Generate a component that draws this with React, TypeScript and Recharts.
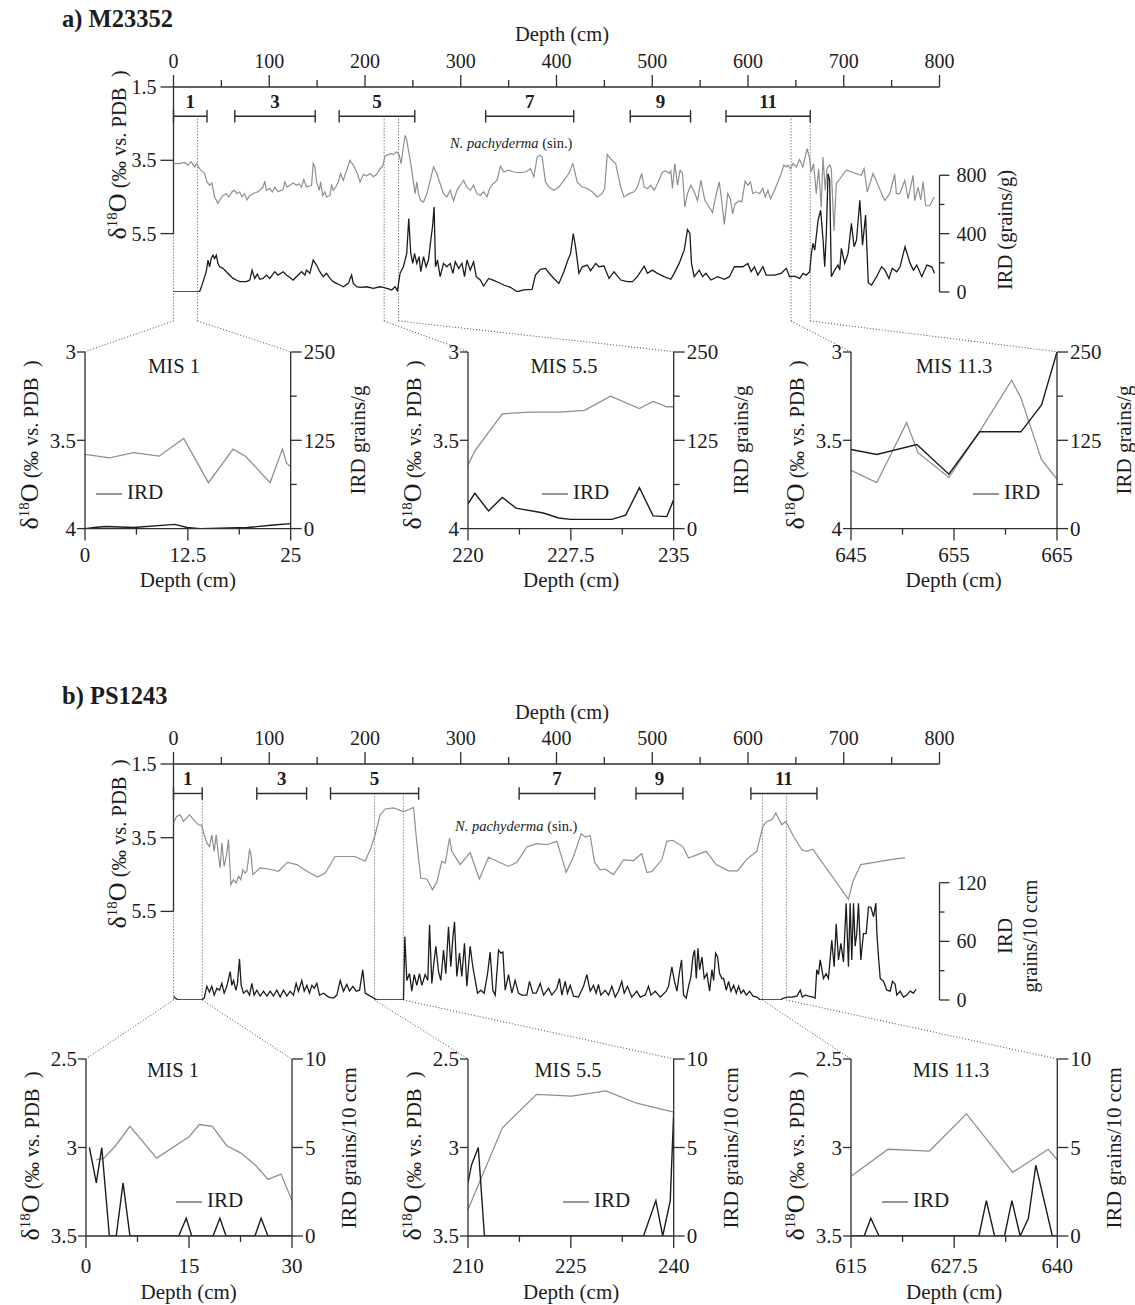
import React from "react";
import { ComposedChart, Line, XAxis, YAxis, ReferenceLine } from "recharts";

const SERIF = '"Liberation Serif", "Times New Roman", Times, serif';
const INK = "#1c1c1c";
const AXIS = "#2e2e2e";
const GREY = "#8f8f8f";
const DOTS = "#474747";

type Pt = [number, number];

// ---------------- a) M23352 : [depth cm, value] ----------------
const A_D18O: Pt[] = [
  [0, 3.59], [6.3, 3.59], [11.5, 3.56], [15, 3.63], [18.5, 3.54], [22, 3.68], [24.4, 3.59], [27.2, 3.73], [29.7, 3.79],
  [32.5, 3.86], [34.9, 4.09], [37.7, 4.18], [40.1, 4.12], [42.9, 4.5], [46.4, 4.67], [49.2, 4.55], [51.7, 4.46], [55.1, 4.41],
  [57.9, 4.5], [61.1, 4.36], [63.9, 4.32], [66.3, 4.41], [69.1, 4.36], [71.6, 4.5], [74.3, 4.41], [76.8, 4.58], [79.6, 4.46],
  [83.8, 4.4], [88.3, 4.36], [93.5, 4.23], [95.3, 4.07], [97, 4.32], [100.5, 4.27], [103.3, 4.36], [105.8, 4.23], [109.2, 4.36],
  [114.5, 4.3], [116.2, 4.09], [118.7, 4.23], [121.5, 4.18], [125, 4.12], [128.4, 4.18], [130.9, 4.14], [133.7, 4.23],
  [136.1, 4.03], [138.9, 4.23], [144.2, 4.18], [145.9, 3.59], [147.6, 3.68], [149.4, 4.09], [152.2, 4.32], [153.6, 4.09],
  [155.7, 4.46], [158.1, 4.36], [159.9, 4.5], [163.4, 4.46], [165.1, 4.16], [166.8, 4.32], [169.3, 4.23], [172.1, 4.09],
  [174.5, 3.86], [177.3, 4.05], [180.8, 3.77], [184.3, 3.5], [187.8, 3.63], [192, 3.86], [194.8, 4.09], [198.3, 3.88],
  [201.7, 3.93], [205.2, 3.86], [208.7, 3.95], [212.2, 3.88], [215.7, 3.73], [218.5, 3.66], [220.9, 3.39], [226.2, 3.32],
  [229.7, 3.34], [233.2, 3.27], [235.6, 3.34], [237.7, 3.59], [240.1, 3.13], [241.9, 2.82], [243.6, 2.95], [245.4, 3.23],
  [247.8, 3.59], [250.6, 4.09], [252.4, 4.41], [254.1, 4.09], [255.8, 4.41], [258.3, 4.6], [261.1, 4.64], [264.6, 4.41],
  [268.1, 4.05], [271.6, 3.68], [275, 3.86], [278.5, 4.14], [282, 4.41], [285.5, 4.5], [289, 4.32], [292.5, 4.61], [296, 4.32],
  [299.5, 4.18], [303, 4.05], [306.5, 4.23], [309.9, 4.32], [313.4, 4.18], [316.9, 4.41], [320.4, 4.46], [323.9, 4.36],
  [327.4, 4.5], [330.2, 4.27], [333.7, 4.14], [337.9, 4.05], [341.4, 3.66], [344.9, 3.82], [350.1, 3.77], [355.3, 3.82],
  [362.3, 3.84], [367.6, 3.82], [372.8, 3.73], [376.3, 3.95], [379.8, 3.41], [382.6, 3.36], [385, 3.41], [388.5, 4.09],
  [392, 4.23], [397.2, 4.32], [402.5, 4.23], [407.7, 4.05], [412.9, 3.86], [417.1, 3.59], [421.6, 4.09], [426.9, 4.23],
  [432.1, 4.27], [437.3, 4.36], [442.6, 4.5], [447.8, 4.41], [450.3, 4.27], [453, 3.34], [456.5, 3.46], [461.8, 3.59],
  [467, 4.23], [470.5, 4.5], [475.8, 4.41], [481, 4.36], [484.5, 4.23], [489, 3.86], [491.5, 4.23], [495, 4.27], [498.5, 4.18],
  [502, 4.32], [505.4, 4.14], [510.7, 3.82], [514.2, 3.79], [517.7, 3.86], [519.4, 3.79], [521.1, 4.27], [523.6, 3.59],
  [526.4, 4.18], [529.1, 3.77], [531.6, 3.86], [534, 4.78], [536.8, 4.41], [540.3, 4.18], [543.8, 4.36], [547.3, 4.6],
  [550.8, 4.05], [555, 4.6], [559.5, 4.78], [563, 4.92], [566.5, 4.46], [570, 4.09], [572.5, 4.6], [575.3, 5.25], [578.8, 4.41],
  [581.6, 4.55], [584, 4.96], [586.5, 4.69], [591, 4.6], [593.5, 4.64], [597, 4.07], [599.8, 4.18], [602.6, 4.09], [605, 4.41],
  [608.5, 4.36], [612, 4.41], [615.5, 4.27], [618, 4.5], [620.8, 4.32], [623.5, 4.55], [627, 4.36], [631.2, 4.09], [634.7, 3.86],
  [637.5, 3.63], [640, 3.68], [641.7, 3.63], [644.5, 3.73], [647, 3.59], [650.4, 3.68], [653.8, 3.48], [657.3, 3.68],
  [661.8, 3.18], [664.3, 3.45], [666, 3.82], [668.5, 3.59], [671.3, 4.41], [673.7, 3.73], [676.5, 4.78], [678.3, 3.41],
  [680.7, 4.32], [682.5, 3.73], [685.3, 3.63], [687, 3.73], [689.8, 5.43], [692.2, 4.14], [702.7, 3.77], [718.4, 3.91],
  [721.2, 3.73], [724.6, 4.36], [730.6, 3.86], [735.8, 4.18], [742.8, 4.6], [748, 4.41], [753.2, 3.88], [755, 4.41],
  [758.5, 4.41], [763.7, 4.05], [767.2, 4.55], [772.4, 3.91], [774.1, 4.6], [777.6, 4.23], [780.4, 4.58], [782.9, 4.09],
  [785.6, 4.74], [789.8, 4.74], [794.4, 4.5],
];

const A_IRD: Pt[] = [
  [0, 0], [27.2, 2], [29, 32], [34.2, 139], [36, 219], [37.7, 173], [39.4, 230], [41.2, 253], [42.9, 230], [44.7, 253],
  [46.4, 196], [48.2, 173], [51.7, 162], [55.1, 139], [58.6, 116], [62.1, 93], [65.6, 82], [69.1, 71], [76.1, 71], [79.6, 82],
  [82.1, 150], [84.8, 93], [87.6, 123], [90.1, 87], [93.5, 93], [97, 116], [100.5, 93], [105.8, 139], [109.2, 116], [114.5, 139],
  [118, 116], [121.5, 100], [125, 82], [128.4, 105], [133.7, 139], [137.2, 116], [138.9, 150], [142.4, 128], [145.9, 219],
  [149.4, 185], [152.8, 139], [156.4, 105], [159.9, 128], [163.4, 93], [166.8, 71], [170.3, 59], [173.8, 48], [177.3, 36],
  [182.6, 59], [186, 116], [187.8, 59], [191.3, 36], [194.8, 32], [201.7, 36], [208.7, 25], [215.7, 36], [219.2, 32],
  [222.7, 25], [227.9, 14], [231.4, 36], [233.9, 9], [236.6, 128], [240.1, 173], [243.6, 264], [245.7, 504], [247.8, 264],
  [249.9, 196], [251.7, 264], [254.1, 196], [256.5, 242], [258.3, 139], [261.1, 242], [263.8, 173], [266.3, 219], [268.7, 356],
  [270.5, 447], [272.2, 583], [273.6, 173], [275.7, 219], [278.5, 105], [282, 196], [285.5, 173], [289, 196], [291.8, 128],
  [294.3, 207], [297.8, 162], [301.3, 196], [304, 105], [306.5, 219], [309.9, 150], [313.4, 207], [316.2, 105], [320.4, 82],
  [323.9, 41], [329.1, 93], [334.4, 80], [339.6, 65], [344.9, 48], [351.9, 32], [358.8, 2], [365.8, 14], [374.5, 18],
  [378, 116], [383.2, 155], [388.5, 162], [392, 132], [397.2, 93], [402.5, 59], [407.7, 139], [411.9, 219], [414.7, 264],
  [417.5, 401], [419.9, 310], [423.4, 128], [426.9, 173], [432.1, 185], [435.6, 146], [440.9, 196], [444.4, 173], [449.6, 178],
  [454.9, 93], [460.1, 139], [467.1, 82], [474.1, 71], [479.3, 71], [484.5, 105], [491.5, 178], [495, 128], [500.2, 150],
  [505.4, 128], [512.4, 105], [519.4, 87], [522.9, 128], [528.1, 196], [533.4, 287], [536.8, 428], [539.3, 401], [541, 196],
  [543.8, 105], [549.1, 150], [552.6, 105], [556.1, 128], [561.3, 82], [568.3, 105], [575.3, 87], [580.6, 105], [585.8, 173],
  [594.5, 173], [599.8, 196], [603.3, 139], [606.8, 173], [610.3, 116], [615.5, 173], [619, 116], [627.8, 116], [634.7, 128],
  [640, 162], [643.5, 105], [648.7, 109], [654, 93], [657.5, 128], [660.9, 116], [664.4, 139], [666.2, 264], [667.9, 333],
  [669.7, 287], [673.2, 492], [675.9, 561], [678.4, 356], [680.1, 173], [681.8, 401], [683.6, 811], [685.3, 766], [687, 105],
  [690.5, 150], [694, 185], [695.8, 150], [697.5, 299], [701, 196], [704.5, 264], [708, 470], [710.8, 310], [713.3, 356],
  [716.8, 629], [719.6, 321], [722.8, 527], [725.6, 64], [729, 48], [734.3, 105], [739.5, 173], [743, 150], [747.2, 93],
  [750.7, 162], [755.3, 139], [758.8, 173], [764, 310], [769.3, 196], [772.8, 150], [776.3, 185], [781.5, 105], [786.8, 185],
  [792, 173], [794.8, 128],
];

const A_MIS_LABELS = ["1", "3", "5", "7", "9", "11"];
const A_MIS_FROM = [0, 64, 173, 326, 477, 577];
const A_MIS_TO = [35, 148, 252, 418, 540, 665];
const A_WINDOWS: Pt[] = [[0, 25], [220, 235], [645, 665]];
const A_IRD_TICKS = [0, 200, 400, 600, 800];
const A_IRD_LABELS = [0, 400, 800];

// insets a)
const A1_D18O: Pt[] = [[0, 3.58], [3, 3.6], [5.9, 3.57], [9, 3.59], [12, 3.49], [15, 3.74], [18, 3.55], [19.5, 3.59], [22.5, 3.74], [24, 3.55], [24.5, 3.63], [25, 3.65]];
const A1_IRD: Pt[] = [[0, 0], [1.4, 2], [2.6, 3], [5.9, 1.5], [10.9, 6], [12.4, 1.5], [14, 0], [19.7, 1.5], [22.9, 5], [25, 7]];
const A2_D18O: Pt[] = [[220, 3.64], [220.5, 3.56], [222.5, 3.35], [224.5, 3.34], [226.7, 3.34], [228.5, 3.33], [230.4, 3.25], [232.5, 3.32], [233.5, 3.28], [234.5, 3.31], [235, 3.31]];
const A2_IRD: Pt[] = [[220, 35], [220.5, 50], [221.5, 25], [222.5, 44], [223.5, 29], [225.5, 22], [226.6, 15], [227.5, 13], [230.5, 13], [231.5, 19], [232.5, 58], [233.5, 18], [234.5, 17], [235, 41]];
const A3_D18O: Pt[] = [[645, 3.67], [647.5, 3.74], [650.4, 3.4], [651.5, 3.57], [654.5, 3.71], [657.6, 3.44], [660.6, 3.16], [661.5, 3.26], [663.5, 3.61], [665, 3.72]];
const A3_IRD: Pt[] = [[645, 112], [647.5, 105], [651.4, 119], [654.5, 77], [657.5, 137], [661.5, 137], [663.5, 175], [665, 250]];

// ---------------- b) PS1243 ----------------
const B_D18O: Pt[] = [
  [0, 3.1], [3.5, 2.92], [7, 2.88], [10.4, 3.06], [16.7, 2.88], [20.9, 3.01], [26.1, 3.15], [29.6, 3.17], [32, 3.42], [34.8, 3.64],
  [37.6, 3.74], [40, 3.42], [42.5, 3.87], [44.6, 3.42], [47, 4.01], [48.7, 4.32], [50.5, 3.64], [52.9, 4.28], [55.7, 3.92],
  [57.4, 3.55], [59.9, 4.78], [62.7, 4.64], [65.4, 4.73], [67.9, 4.55], [70.3, 4.64], [72.4, 4.37], [74.8, 4.46], [76.6, 4.41],
  [79.4, 3.83], [80.8, 3.92], [82.9, 4.5], [90.5, 4.32], [99.2, 4.35], [109.7, 4.41], [119, 4.17], [128.8, 4.23], [139.3, 4.41],
  [150.4, 4.57], [158.4, 4.46], [168.8, 4.01], [189.7, 4.01], [200.2, 4.14], [206.1, 3.78], [210.6, 3.42], [215.8, 2.88],
  [221.1, 2.72], [229.8, 2.69], [240.2, 2.79], [245.4, 2.74], [250.7, 2.68], [254.1, 3.64], [258.3, 4.6], [264.6, 4.62],
  [270.5, 4.91], [275, 4.71], [280.2, 4.14], [283.8, 4.19], [286.5, 3.78], [288.3, 3.51], [290.7, 3.87], [299.4, 4.23],
  [309.8, 3.9], [319.5, 4.62], [329, 4.03], [349.9, 4.28], [358.6, 4.17], [369, 3.75], [379.5, 3.66], [389.9, 3.69], [400.4, 3.6],
  [410.1, 4.44], [417.8, 4.01], [425.8, 3.39], [430, 3.48], [435.2, 3.44], [439.8, 4.17], [445.6, 4.37], [450.8, 4.35],
  [459.5, 4.5], [470, 4.1], [480.4, 4.12], [489.1, 3.93], [494.3, 4.44], [499.5, 4.42], [510, 4.1], [515.2, 3.6], [521.5, 3.57],
  [531.9, 3.74], [537.9, 4.05], [556.3, 3.87], [566.8, 4.23], [579.6, 4.4], [589, 4.4], [598.8, 4.08], [609.2, 3.87],
  [615.5, 3.19], [619.7, 3.06], [624.9, 3.01], [629.1, 2.83], [635.3, 3.15], [639.5, 3.06], [647.5, 3.46], [656.2, 3.83],
  [661.4, 3.87], [667.7, 3.81], [704.9, 5.17], [709.5, 4.69], [717.8, 4.23], [738, 4.14], [755.4, 4.07], [764.1, 4.05],
];

const B_IRD: Pt[] = [
  [0, 4], [1.7, 2], [5.2, 0], [29.6, 0], [32, 2], [34.8, 14], [37.6, 8], [40, 14], [42.5, 5], [45.3, 12], [48, 10], [50.5, 17],
  [52.9, 7], [55.7, 14], [59.2, 29], [60.9, 15], [62.7, 20], [65.1, 10], [66.8, 17], [68.9, 42], [70.7, 15], [73.1, 7], [76.6, 10],
  [79.4, 5], [81.8, 17], [84.2, 5], [87, 10], [90.5, 4], [94, 9], [97.5, 4], [101, 9], [104.4, 4], [107.9, 10], [111.4, 3],
  [114.9, 10], [118.4, 4], [121.8, 9], [125.3, 5], [128.1, 17], [130.5, 9], [134, 20], [136.5, 9], [139.3, 15], [142, 7],
  [144.5, 15], [146.9, 12], [149.7, 17], [152.5, 5], [156.7, 7], [161.9, 3], [167.1, 2], [170.6, 5], [174.1, 20], [177.5, 9],
  [181, 16], [183.8, 9], [187.3, 14], [190.8, 9], [194.3, 10], [197.7, 31], [200.2, 7], [203.7, 5], [208.9, 2], [212.4, 0],
  [240.2, 0], [241.6, 65], [243.7, 20], [246.5, 27], [248.9, 9], [251.4, 26], [254.1, 15], [256.9, 27], [259.4, 15],
  [262.8, 26], [265.6, 20], [267.4, 77], [269.8, 17], [271.5, 34], [274, 55], [276.8, 29], [279.2, 20], [282, 51], [284.4, 27],
  [287.2, 75], [289.6, 34], [291.7, 63], [293.5, 80], [295.9, 24], [298.7, 48], [301.1, 24], [303.9, 58], [306.4, 14],
  [309.8, 55], [312.6, 34], [315.1, 20], [317.5, 7], [321, 10], [324.5, 7], [328, 27], [330.7, 49], [333.5, 10], [336, 5],
  [339.5, 51], [341.9, 48], [344, 49], [346.4, 10], [349.9, 26], [353.4, 7], [356.8, 20], [360.3, 7], [363.8, 5], [369, 5],
  [371.8, 19], [375.3, 7], [378.8, 7], [383, 17], [386.5, 5], [391.7, 12], [395.1, 5], [400.4, 12], [403.1, 22], [405.6, 5],
  [409.1, 19], [411.5, 7], [414.3, 15], [417.8, 4], [423, 3], [428.2, 14], [431.7, 26], [435.2, 9], [438.6, 15], [441.4, 7],
  [443.8, 16], [446.3, 5], [450.8, 10], [454.3, 5], [457.8, 14], [461.3, 3], [464.7, 9], [468.2, 19], [470.7, 7], [474.1, 14],
  [478.6, 3], [483.9, 9], [487.4, 3], [492.6, 5], [496.1, 14], [498.6, 5], [503.1, 9], [508.4, 3], [514.6, 9], [517, 14],
  [520.5, 34], [523, 20], [525.8, 9], [528.2, 27], [530.6, 41], [532.7, 5], [535.5, 2], [537.9, 14], [540.4, 24], [542.4, 44],
  [544.2, 51], [546, 22], [547.7, 53], [549.5, 31], [551.9, 44], [554.3, 22], [557.1, 27], [559.9, 9], [562.3, 31], [564.1, 20],
  [566.2, 48], [568.2, 44], [570.3, 27], [572.8, 22], [574.5, 22], [577.3, 10], [579.7, 19], [582.2, 9], [585, 15], [587.8, 7],
  [590.2, 14], [592.7, 7], [595.4, 10], [598.2, 5], [601.7, 9], [605.2, 4], [609.3, 3], [612.8, 0], [633.7, 0], [637.2, 2],
  [640.7, 3], [645.9, 3], [651.1, 4], [654.6, 10], [656.7, 3], [659.8, 5], [663.3, 4], [667.8, 3], [670.1, 2], [671.8, 31],
  [673.6, 26], [675.4, 41], [678.8, 22], [681.6, 27], [684, 22], [687.5, 61], [690, 34], [692.1, 78], [694.5, 41], [697, 58],
  [699.7, 39], [702.5, 99], [704.9, 34], [706.7, 99], [708.4, 41], [710.2, 99], [711.9, 55], [713.6, 68], [715.4, 99],
  [717.8, 41], [720.6, 68], [723.4, 68], [725.8, 95], [728.3, 95], [731.1, 85], [733.5, 99], [734.6, 68], [736.3, 44],
  [738.1, 22], [741.6, 19], [745, 10], [748.5, 9], [750.9, 19], [753.7, 16], [755.4, 5], [758.9, 9], [762.4, 3], [765.9, 5],
  [769.3, 9], [772.8, 7], [775.6, 11],
];

const B_MIS_LABELS = ["1", "3", "5", "7", "9", "11"];
const B_MIS_FROM = [0, 87, 164, 361, 483, 603];
const B_MIS_TO = [30, 139, 256, 440, 532, 672];
const B_WINDOWS: Pt[] = [[0, 30], [210, 240], [615, 640]];
const B_IRD_TICKS = [0, 30, 60, 90, 120];
const B_IRD_LABELS = [0, 60, 120];

// insets b)
const B1_D18O: Pt[] = [[1.5, 3.07], [2.6, 3.06], [4.3, 2.99], [6.4, 2.88], [10.3, 3.06], [15, 2.94], [16.5, 2.87], [18.4, 2.88], [20.5, 2.99], [22.5, 3.03], [24.7, 3.1], [26.5, 3.18], [28.4, 3.15], [30, 3.3]];
const B1_IRD: Pt[] = [[0.5, 5], [1.5, 3], [2.3, 5], [3.4, 0], [4.4, 0], [5.4, 3], [6.4, 0], [13.5, 0], [14.6, 1], [15.4, 0], [18.5, 0], [19.5, 1], [20.4, 0], [24.6, 0], [25.5, 1], [26.5, 0], [30, 0]];
const B2_D18O: Pt[] = [[210, 3.35], [215, 2.89], [220, 2.7], [225.1, 2.71], [230.1, 2.68], [234.6, 2.75], [240, 2.8]];
const B2_IRD: Pt[] = [[210, 3], [210.5, 4], [211.5, 5], [212.4, 0], [235.6, 0], [237.4, 2], [238.4, 0], [239.5, 2], [240, 7]];
const B3_D18O: Pt[] = [[615.1, 3.16], [619.5, 3.01], [624.5, 3.02], [629, 2.81], [634.6, 3.14], [638.9, 3.01], [640, 3.07]];
const B3_IRD: Pt[] = [[615, 0], [616.6, 0], [617.4, 1], [618.4, 0], [630.5, 0], [631.4, 2], [632.4, 0], [633.6, 0], [634.5, 2], [635.5, 0], [636.5, 1], [637.4, 4], [639.4, 0], [640, 0]];

const DEPTH_TICKS = [0, 50, 100, 150, 200, 250, 300, 350, 400, 450, 500, 550, 600, 650, 700, 750, 800];
const D18_TICKS = [1.5, 3.5, 5.5];

// ---------------- layout ----------------
const W = 1135;
const AXIS_H = 87;
const PLOT_L = 173.5;
const PLOT_R = 939.5;
const depthAt = (px: number) => ((px - PLOT_L) / (PLOT_R - PLOT_L)) * 800;
const toRows = (pts: Pt[]) => pts.map(([d, v]) => ({ d, v }));

type Rect = { l: number; r: number; t: number; b: number };

const A_INSETS: Rect[] = [
  { l: 85, r: 290.7, t: 351.7, b: 528.3 },
  { l: 468.3, r: 674, t: 351.7, b: 528.3 },
  { l: 850.7, r: 1056.7, t: 351.7, b: 528.3 },
];
const B_INSETS: Rect[] = [
  { l: 85.7, r: 291.7, t: 1059, b: 1236 },
  { l: 468.3, r: 674, t: 1059, b: 1236 },
  { l: 851, r: 1057.3, t: 1059, b: 1236 },
];

type MainProps = {
  top: number;
  plotBottom: number;
  svgBottom: number;
  d18Max: number;
  irdMax: number;
  irdTicks: number[];
  irdLabels: number[];
  d18: Pt[];
  ird: Pt[];
  misLabels: string[];
  misFrom: number[];
  misTo: number[];
  windows: Pt[];
  dotBottom: number;
  insets: Rect[];
};

function MainChart(p: MainProps) {
  const plotTop = p.top + AXIS_H;
  const plotH = p.plotBottom - plotTop;
  const h = p.svgBottom - p.top;
  const d18At = (gy: number) => 1.5 + ((gy - plotTop) / plotH) * (p.d18Max - 1.5);
  const bracketY = 2.3;
  const cap = 0.17;
  const yDot = d18At(p.dotBottom);
  const yInset = d18At(p.insets[0].t);
  const dotted = { stroke: DOTS, strokeWidth: 1, strokeDasharray: "1 2", ifOverflow: "visible" as const };

  const topTick = (t: any) => {
    const v = t.payload.value;
    const major = v % 100 === 0;
    return (
      <g>
        <line x1={t.x} x2={t.x} y1={AXIS_H} y2={AXIS_H - (major ? 12 : 7)} stroke={AXIS} strokeWidth={1.3} />
        {major && (
          <text x={t.x} y={67.5} textAnchor="middle" fontSize={20} fill={INK} fontFamily={SERIF}>
            {v}
          </text>
        )}
      </g>
    );
  };
  const leftTick = (t: any) => (
    <g>
      <line x1={PLOT_L - 13} x2={PLOT_L} y1={t.y} y2={t.y} stroke={AXIS} strokeWidth={1.3} />
      <text x={PLOT_L - 17} y={t.y} dy="0.35em" textAnchor="end" fontSize={20} fill={INK} fontFamily={SERIF}>
        {t.payload.value}
      </text>
    </g>
  );
  const rightTick = (t: any) => {
    const v = t.payload.value;
    const major = p.irdLabels.includes(v);
    return (
      <g>
        <line x1={PLOT_R} x2={PLOT_R + (major ? 10 : 5)} y1={t.y} y2={t.y} stroke={AXIS} strokeWidth={1.3} />
        {major && (
          <text x={PLOT_R + 17} y={t.y} dy="0.35em" textAnchor="start" fontSize={20} fill={INK} fontFamily={SERIF}>
            {v}
          </text>
        )}
      </g>
    );
  };

  return (
    <div style={{ position: "absolute", left: 0, top: p.top }}>
      <ComposedChart
        width={W}
        height={h}
        margin={{ top: 0, right: 0, bottom: h - (p.plotBottom - p.top), left: 0 }}
      >
        <XAxis
          type="number"
          dataKey="d"
          orientation="top"
          domain={[0, 800]}
          ticks={DEPTH_TICKS}
          interval={0}
          height={AXIS_H}
          tickLine={false}
          axisLine={{ stroke: AXIS, strokeWidth: 1.3 }}
          tick={topTick}
          allowDataOverflow
        />
        <YAxis
          yAxisId="l"
          type="number"
          domain={[1.5, p.d18Max]}
          reversed
          ticks={D18_TICKS}
          interval={0}
          width={PLOT_L}
          axisLine={false}
          tickLine={false}
          tick={leftTick}
          allowDataOverflow
        />
        <YAxis
          yAxisId="r"
          orientation="right"
          type="number"
          domain={[0, p.irdMax]}
          ticks={p.irdTicks}
          interval={0}
          width={W - PLOT_R}
          axisLine={false}
          tickLine={false}
          tick={rightTick}
          allowDataOverflow
        />
        <ReferenceLine yAxisId="l" segment={[{ x: 0, y: 1.5 }, { x: 0, y: 5.5 }]} stroke={AXIS} strokeWidth={1.3} ifOverflow="visible" />
        <ReferenceLine
          yAxisId="r"
          segment={[{ x: 800, y: 0 }, { x: 800, y: p.irdTicks[p.irdTicks.length - 1] }]}
          stroke={AXIS}
          strokeWidth={1.3}
          ifOverflow="visible"
        />

        {/* MIS brackets */}
        {p.misLabels.map((lab, i) => (
          <ReferenceLine
            key={"m" + i}
            yAxisId="l"
            segment={[{ x: p.misFrom[i], y: bracketY }, { x: p.misTo[i], y: bracketY }]}
            stroke={AXIS}
            strokeWidth={1.4}
            ifOverflow="visible"
            label={{ value: lab, position: "top", offset: 8, fill: INK, fontSize: 19, fontWeight: 700, fontFamily: SERIF }}
          />
        ))}
        {p.misLabels.flatMap((lab, i) =>
          [p.misFrom[i], p.misTo[i]].map((x, k) => (
            <ReferenceLine
              key={"c" + i + k}
              yAxisId="l"
              segment={[{ x, y: bracketY - cap }, { x, y: bracketY + cap }]}
              stroke={AXIS}
              strokeWidth={1.4}
              ifOverflow="visible"
            />
          ))
        )}

        {/* dotted window guides and connectors to insets */}
        {p.windows.flatMap(([lo, hi], i) => [
          <ReferenceLine key={"v1" + i} yAxisId="l" segment={[{ x: lo, y: lo === 0 ? 5.5 : bracketY }, { x: lo, y: yDot }]} {...dotted} />,
          <ReferenceLine key={"v2" + i} yAxisId="l" segment={[{ x: hi, y: bracketY }, { x: hi, y: yDot }]} {...dotted} />,
          <ReferenceLine key={"k1" + i} yAxisId="l" segment={[{ x: lo, y: yDot }, { x: depthAt(p.insets[i].l), y: yInset }]} {...dotted} />,
          <ReferenceLine key={"k2" + i} yAxisId="l" segment={[{ x: hi, y: yDot }, { x: depthAt(p.insets[i].r), y: yInset }]} {...dotted} />,
        ])}

        <Line yAxisId="l" data={toRows(p.d18)} dataKey="v" type="linear" stroke={GREY} strokeWidth={1.2} dot={false} isAnimationActive={false} />
        <Line yAxisId="r" data={toRows(p.ird)} dataKey="v" type="linear" stroke={INK} strokeWidth={1.3} dot={false} isAnimationActive={false} />
      </ComposedChart>
    </div>
  );
}

type InsetProps = {
  rect: Rect;
  xDomain: Pt;
  xMajor: number[];
  xMinor: number[];
  yDomain: Pt;
  yTicks: number[];
  rDomain: Pt;
  rMajor: number[];
  rMinor: number[];
  d18: Pt[];
  ird: Pt[];
  labelDy: number;
};

const LW = 85;
const RW = 75;
const TM = 22;
const XH = 72;

function InsetChart(p: InsetProps) {
  const { l, r, t, b } = p.rect;
  const pw = r - l;
  const ph = b - t;
  const axisY = TM + ph;
  const pr = LW + pw;

  const bottomTick = (k: any) => {
    const v = k.payload.value;
    const major = p.xMajor.includes(v);
    return (
      <g>
        <line x1={k.x} x2={k.x} y1={axisY} y2={axisY + (major ? 12 : 6)} stroke={AXIS} strokeWidth={1.3} />
        {major && (
          <text x={k.x} y={axisY + p.labelDy} textAnchor="middle" fontSize={21} fill={INK} fontFamily={SERIF}>
            {v}
          </text>
        )}
      </g>
    );
  };
  const leftTick = (k: any) => (
    <g>
      <line x1={LW - 8} x2={LW} y1={k.y} y2={k.y} stroke={AXIS} strokeWidth={1.3} />
      <text x={LW - 9} y={k.y} dy="0.35em" textAnchor="end" fontSize={21} fill={INK} fontFamily={SERIF}>
        {k.payload.value}
      </text>
    </g>
  );
  const rightTick = (k: any) => {
    const v = k.payload.value;
    const major = p.rMajor.includes(v);
    return (
      <g>
        <line x1={pr} x2={pr + (major ? 11 : 6)} y1={k.y} y2={k.y} stroke={AXIS} strokeWidth={1.3} />
        {major && (
          <text x={pr + 13} y={k.y} dy="0.35em" textAnchor="start" fontSize={21} fill={INK} fontFamily={SERIF}>
            {v}
          </text>
        )}
      </g>
    );
  };

  return (
    <div style={{ position: "absolute", left: l - LW, top: t - TM }}>
      <ComposedChart width={pw + LW + RW} height={ph + TM + XH} margin={{ top: TM, right: 0, bottom: 0, left: 0 }}>
        <XAxis
          type="number"
          dataKey="d"
          domain={p.xDomain}
          ticks={[...p.xMajor, ...p.xMinor].sort((a, c) => a - c)}
          interval={0}
          height={XH}
          tickLine={false}
          axisLine={{ stroke: AXIS, strokeWidth: 1.3 }}
          tick={bottomTick}
          allowDataOverflow
        />
        <YAxis
          yAxisId="l"
          type="number"
          domain={p.yDomain}
          reversed
          ticks={p.yTicks}
          interval={0}
          width={LW}
          tickLine={false}
          axisLine={{ stroke: AXIS, strokeWidth: 1.3 }}
          tick={leftTick}
          allowDataOverflow
        />
        <YAxis
          yAxisId="r"
          orientation="right"
          type="number"
          domain={p.rDomain}
          ticks={[...p.rMajor, ...p.rMinor].sort((a, c) => a - c)}
          interval={0}
          width={RW}
          tickLine={false}
          axisLine={{ stroke: AXIS, strokeWidth: 1.3 }}
          tick={rightTick}
          allowDataOverflow
        />
        <Line yAxisId="l" data={toRows(p.d18)} dataKey="v" type="linear" stroke={GREY} strokeWidth={1.3} dot={false} isAnimationActive={false} />
        <Line yAxisId="r" data={toRows(p.ird)} dataKey="v" type="linear" stroke={INK} strokeWidth={1.4} dot={false} isAnimationActive={false} />
      </ComposedChart>
    </div>
  );
}

// ---------------- text helpers ----------------
function Txt(props: { x: number; y: number; size?: number; bold?: boolean; anchor?: "start" | "middle"; children: React.ReactNode }) {
  const { x, y, size = 20, bold, anchor = "start", children } = props;
  return (
    <div
      style={{
        position: "absolute",
        left: x,
        top: y,
        transform: `translate(${anchor === "middle" ? "-50%" : "0"}, -50%)`,
        fontSize: size,
        fontWeight: bold ? 700 : 400,
        whiteSpace: "nowrap",
        lineHeight: 1,
        color: INK,
      }}
    >
      {children}
    </div>
  );
}

function VTxt(props: { x: number; y: number; size?: number; children: React.ReactNode }) {
  return (
    <div
      style={{
        position: "absolute",
        left: props.x,
        top: props.y,
        transform: "translate(-50%, -50%) rotate(-90deg)",
        fontSize: props.size ?? 20,
        whiteSpace: "nowrap",
        lineHeight: 1,
        color: INK,
      }}
    >
      {props.children}
    </div>
  );
}

const D18Title = () => (
  <>
    <span style={{ fontSize: 26 }}>δ</span>
    <span style={{ fontSize: 15, position: "relative", top: -9 }}>18</span>
    <span style={{ fontSize: 26 }}>O</span>
    <span style={{ fontSize: 20.5 }}>{" (‰ vs. PDB\u00a0\u00a0)"}</span>
  </>
);

const Legend = ({ x, y }: { x: number; y: number }) => (
  <Txt x={x} y={y} size={21}>
    <span style={{ display: "inline-block", width: 26, borderTop: `1.4px solid ${AXIS}`, verticalAlign: "middle", marginRight: 5 }} />
    IRD
  </Txt>
);

const A_INSET_TITLES = ["MIS 1", "MIS 5.5", "MIS 11.3"];
const A_INSET_TITLE_X = [174, 564, 954];
const A_LEGEND_X = [96, 542, 973];
const B_INSET_TITLES = ["MIS 1", "MIS 5.5", "MIS 11.3"];
const B_INSET_TITLE_X = [173, 568, 951];
const B_LEGEND_X = [176, 563, 882];

export default function App() {
  const aInsets = [
    { xDomain: [0, 25] as Pt, xMajor: [0, 12.5, 25], xMinor: [6.25, 18.75], d18: A1_D18O, ird: A1_IRD },
    { xDomain: [220, 235] as Pt, xMajor: [220, 227.5, 235], xMinor: [223.75, 231.25], d18: A2_D18O, ird: A2_IRD },
    { xDomain: [645, 665] as Pt, xMajor: [645, 655, 665], xMinor: [650, 660], d18: A3_D18O, ird: A3_IRD },
  ];
  const bInsets = [
    { xDomain: [0, 30] as Pt, xMajor: [0, 15, 30], xMinor: [7.5, 22.5], d18: B1_D18O, ird: B1_IRD },
    { xDomain: [210, 240] as Pt, xMajor: [210, 225, 240], xMinor: [217.5, 232.5], d18: B2_D18O, ird: B2_IRD },
    { xDomain: [615, 640] as Pt, xMajor: [615, 627.5, 640], xMinor: [621.25, 633.75], d18: B3_D18O, ird: B3_IRD },
  ];

  return (
    <div
      style={{
        position: "absolute",
        left: 0,
        top: 0,
        width: W,
        height: 1305,
        background: "#fff",
        fontFamily: SERIF,
        overflow: "hidden",
      }}
    >
      {/* ---- panel a ---- */}
      <MainChart
        top={0}
        plotBottom={292}
        svgBottom={360}
        d18Max={1.5 + 205 / 36.65}
        irdMax={205 / 0.14588}
        irdTicks={A_IRD_TICKS}
        irdLabels={A_IRD_LABELS}
        d18={A_D18O}
        ird={A_IRD}
        misLabels={A_MIS_LABELS}
        misFrom={A_MIS_FROM}
        misTo={A_MIS_TO}
        windows={A_WINDOWS}
        dotBottom={321}
        insets={A_INSETS}
      />
      {A_INSETS.map((rect, i) => (
        <InsetChart
          key={"ai" + i}
          rect={rect}
          {...aInsets[i]}
          yDomain={[3, 4]}
          yTicks={[3, 3.5, 4]}
          rDomain={[0, 250]}
          rMajor={[0, 125, 250]}
          rMinor={[62.5, 187.5]}
          labelDy={33}
        />
      ))}

      {/* ---- panel b ---- */}
      <MainChart
        top={677}
        plotBottom={1000}
        svgBottom={1065}
        d18Max={1.5 + 236 / 36.85}
        irdMax={236 / 0.9775}
        irdTicks={B_IRD_TICKS}
        irdLabels={B_IRD_LABELS}
        d18={B_D18O}
        ird={B_IRD}
        misLabels={B_MIS_LABELS}
        misFrom={B_MIS_FROM}
        misTo={B_MIS_TO}
        windows={B_WINDOWS}
        dotBottom={1000}
        insets={B_INSETS}
      />
      {B_INSETS.map((rect, i) => (
        <InsetChart
          key={"bi" + i}
          rect={rect}
          {...bInsets[i]}
          yDomain={[2.5, 3.5]}
          yTicks={[2.5, 3, 3.5]}
          rDomain={[0, 10]}
          rMajor={[0, 5, 10]}
          rMinor={[]}
          labelDy={37}
        />
      ))}

      {/* ---- texts panel a ---- */}
      <Txt x={62} y={19} size={24.5} bold>a) M23352</Txt>
      <Txt x={562} y={34} size={20.5} anchor="middle">Depth (cm)</Txt>
      <VTxt x={118} y={155}><D18Title /></VTxt>
      <VTxt x={1005} y={230} size={20.5}>IRD (grains/g)</VTxt>
      <Txt x={450} y={143} size={14.5}>
        <i>N. pachyderma</i> (sin.)
      </Txt>
      {A_INSETS.map((rc, i) => (
        <React.Fragment key={"at" + i}>
          <Txt x={A_INSET_TITLE_X[i]} y={366} size={20.5} anchor="middle">{A_INSET_TITLES[i]}</Txt>
          <Txt x={(rc.l + rc.r) / 2} y={580} size={21} anchor="middle">Depth (cm)</Txt>
          <VTxt x={rc.l - 55} y={(rc.t + rc.b) / 2 + 5}><D18Title /></VTxt>
          <VTxt x={rc.r + 67} y={(rc.t + rc.b) / 2} size={21}>IRD grains/g</VTxt>
          <Legend x={A_LEGEND_X[i]} y={492} />
        </React.Fragment>
      ))}

      {/* ---- texts panel b ---- */}
      <Txt x={62} y={696} size={24.5} bold>b) PS1243</Txt>
      <Txt x={562} y={712} size={20.5} anchor="middle">Depth (cm)</Txt>
      <VTxt x={118} y={844}><D18Title /></VTxt>
      <VTxt x={1005} y={936} size={21}>IRD</VTxt>
      <VTxt x={1030} y={936} size={20}>grains/10 ccm</VTxt>
      <Txt x={455} y={826} size={14.5}>
        <i>N. pachyderma</i> (sin.)
      </Txt>
      {B_INSETS.map((rc, i) => (
        <React.Fragment key={"bt" + i}>
          <Txt x={B_INSET_TITLE_X[i]} y={1070} size={20.5} anchor="middle">{B_INSET_TITLES[i]}</Txt>
          <Txt x={(rc.l + rc.r) / 2} y={1292} size={21} anchor="middle">Depth (cm)</Txt>
          <VTxt x={rc.l - 55} y={(rc.t + rc.b) / 2 + 8}><D18Title /></VTxt>
          <VTxt x={rc.r + 57} y={(rc.t + rc.b) / 2} size={21}>
            <span style={{ fontSize: 22 }}>IRD</span> grains/10 ccm
          </VTxt>
          <Legend x={B_LEGEND_X[i]} y={1200} />
        </React.Fragment>
      ))}
    </div>
  );
}
